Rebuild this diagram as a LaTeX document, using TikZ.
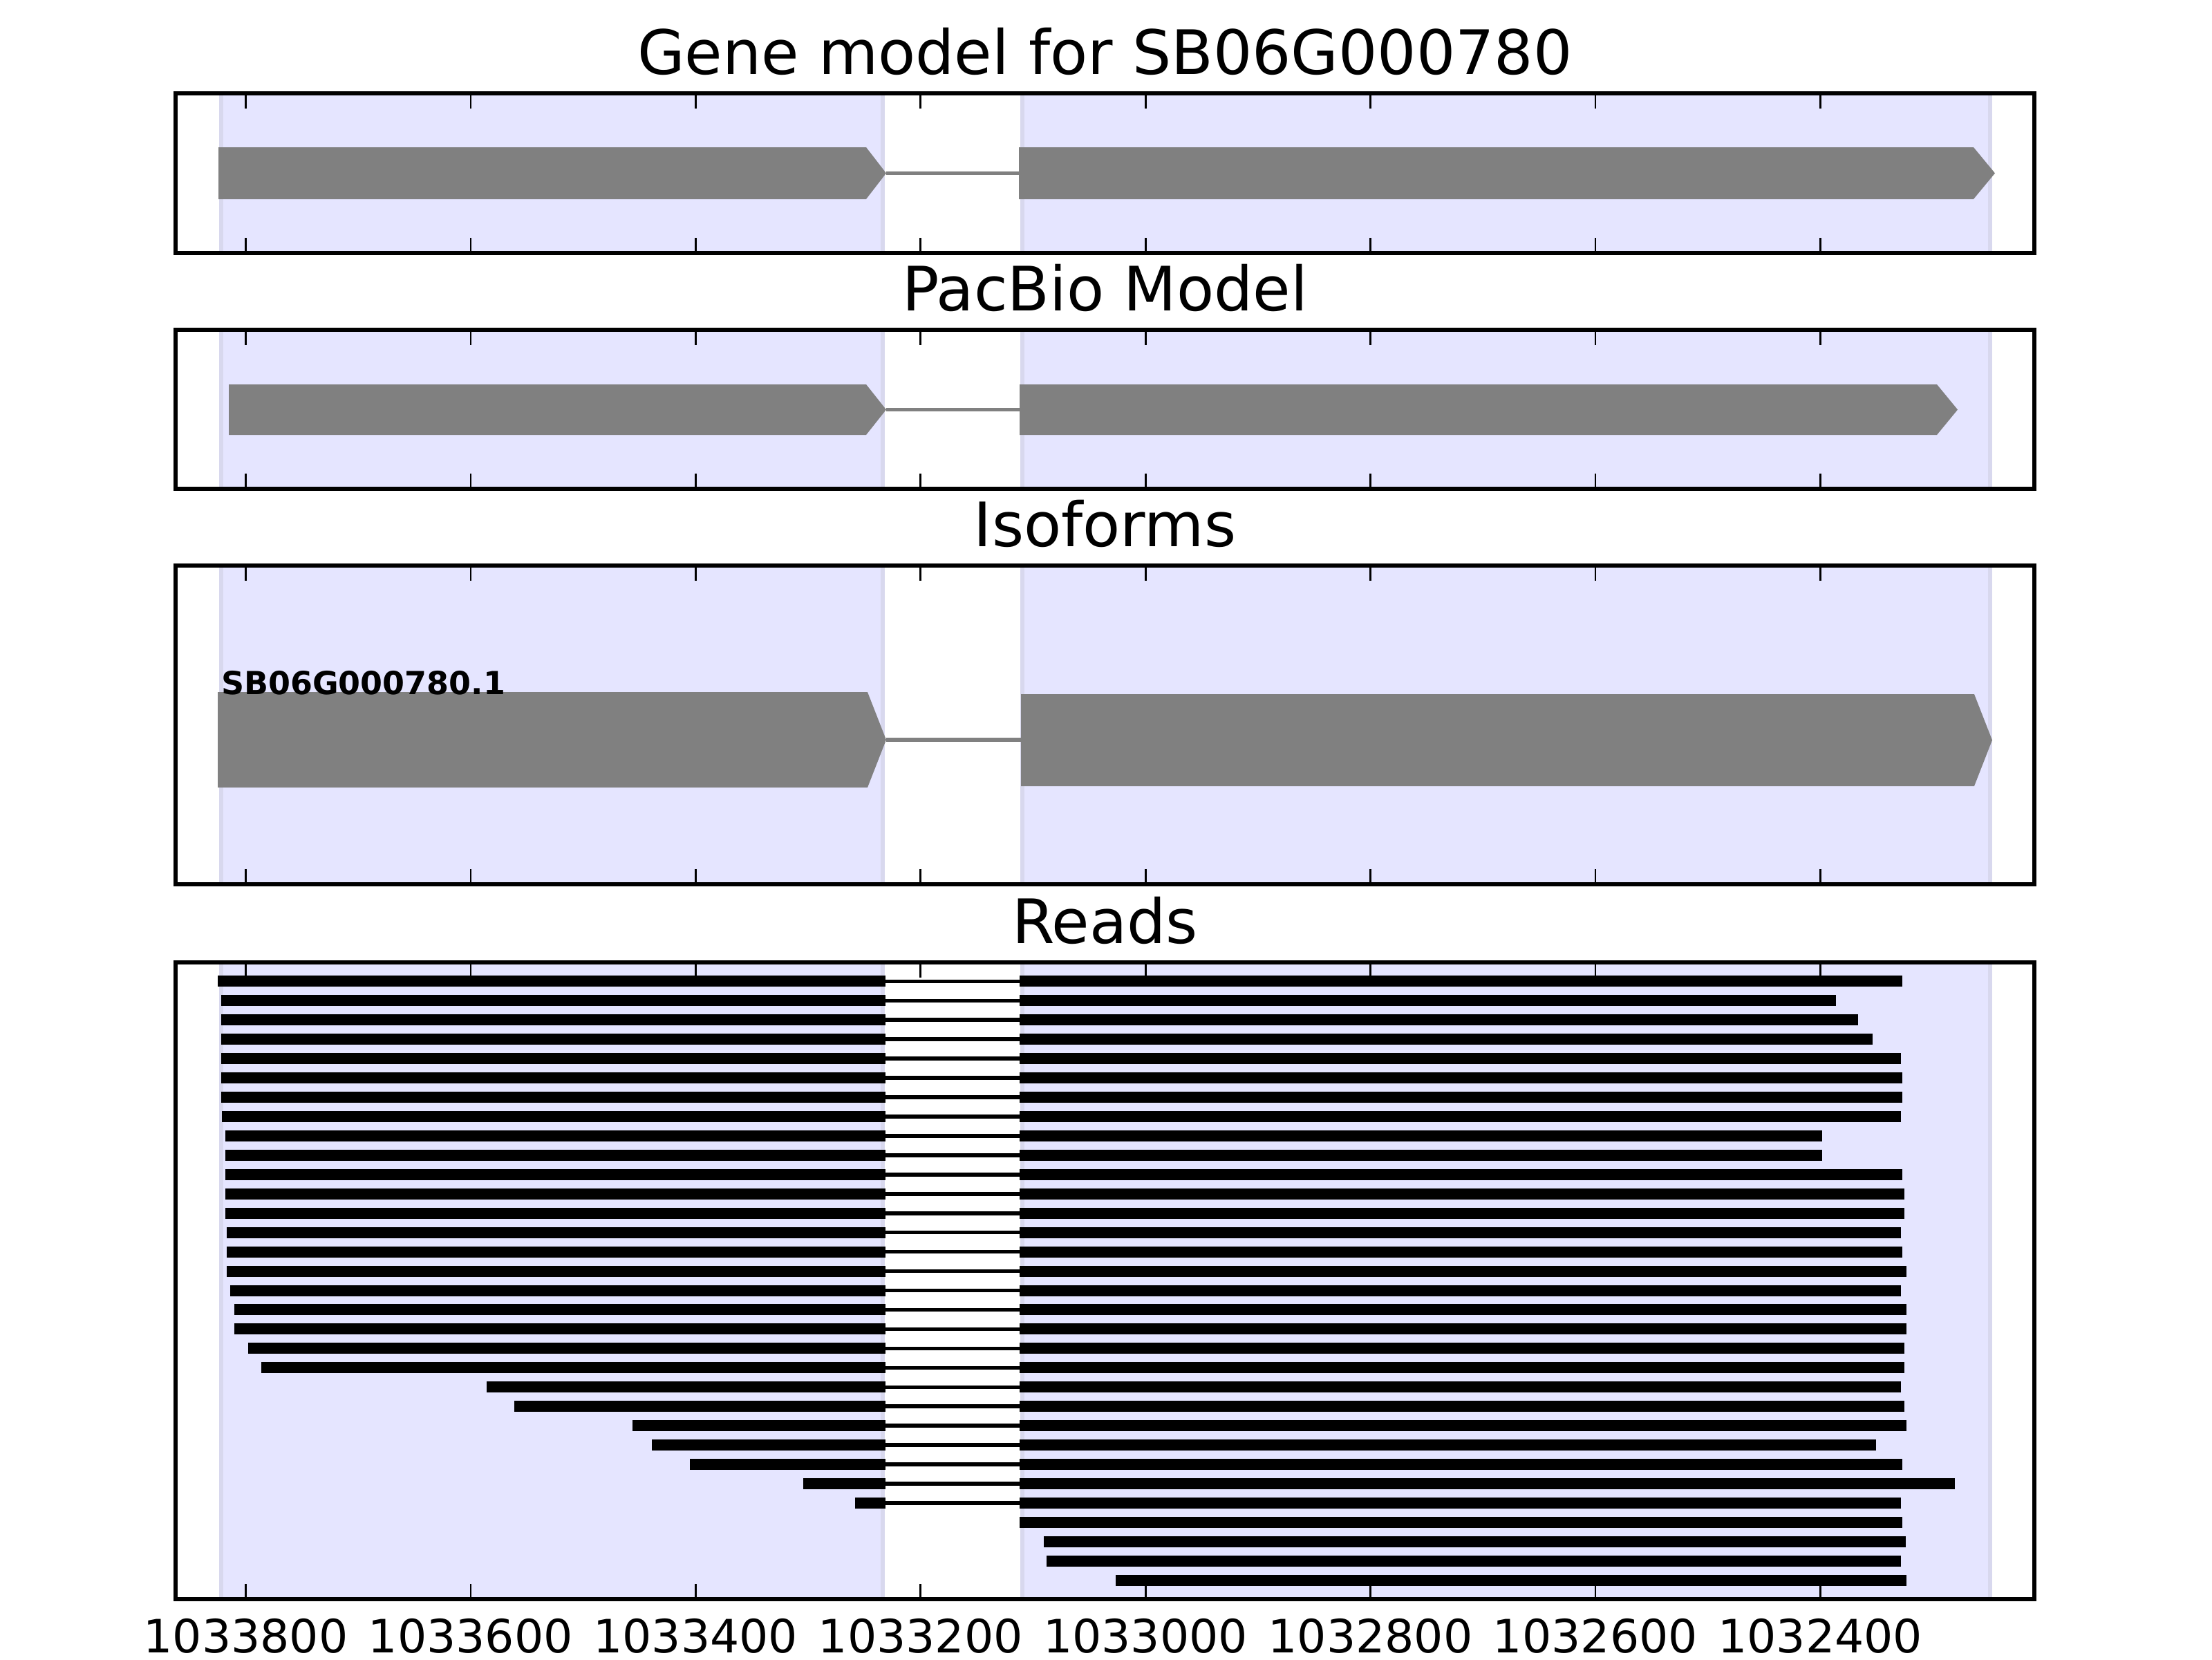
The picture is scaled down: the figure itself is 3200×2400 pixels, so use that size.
\documentclass[tikz,border=0pt]{standalone}
\usepackage{fontspec}
\setmainfont{DejaVu Sans}
\definecolor{exongray}{RGB}{128,128,128}
\definecolor{spanfill}{RGB}{229,229,255}
\definecolor{spanedge}{RGB}{216,216,238}
\begin{document}
\begin{tikzpicture}[x=0.00635cm,y=-0.00635cm]
\tikzstyle{ttl}=[anchor=base, inner sep=0pt, font=\fontsize{16}{19}\selectfont]
\tikzstyle{tlb}=[anchor=base, inner sep=0pt, font=\fontsize{12}{14}\selectfont]
\tikzstyle{iso}=[anchor=base west, inner sep=0pt, font=\fontsize{8.3}{10}\selectfont\bfseries]
\tikzstyle{span}=[fill=spanfill, draw=spanedge, line width=1pt]
\tikzstyle{exon}=[fill=exongray]
\tikzstyle{intron}=[draw=exongray, line width=1pt]
\tikzstyle{rd}=[fill=black]
\tikzstyle{rdline}=[draw=black, line width=1pt]
\tikzstyle{frame}=[draw=black, line width=1pt]
\tikzstyle{tck}=[draw=black, line width=0.5pt]
	\fill[white] (0,0) rectangle (3200,2400);
	\useasboundingbox (0,0) rectangle (3200,2400);

\foreach \yt/\yb in {135/366, 477/707, 818/1279, 1392/2313}{\filldraw[span] (320,\yt) rectangle (1277,\yb); \filldraw[span] (1479,\yt) rectangle (2879,\yb);}

\foreach \xa/\xc/\xt/\ym/\hh in {316/1253/1282/250.5/37.5, 1474/2855/2886/250.5/37.5, 331/1253/1282/592.5/36.5, 1475/2802/2832/592.5/36.5, 315/1255/1282/1070/69, 1477/2856/2882/1070.5/66.5}{\fill[exon] (\xa,\ym-\hh) -- (\xc,\ym-\hh) -- (\xt,\ym) -- (\xc,\ym+\hh) -- (\xa,\ym+\hh) -- cycle;}
	\draw[intron] (1282,250.5) -- (1474,250.5);
	\draw[intron] (1282,592.5) -- (1475,592.5);
	\draw[intron] (1282,1070) -- (1477,1070);
	\node[iso] (isolbl) at (319,1004) {SB06G000780.1};

\foreach \n/\lft/\rgt in {0/315/2752, 1/320/2656, 2/320/2688, 3/320/2709, 4/320/2750, 5/320/2752, 6/320/2752, 7/321/2750, 8/326/2636, 9/326/2636, 10/326/2752, 11/326/2755, 12/326/2755, 13/328/2750, 14/328/2752, 15/328/2758, 16/333/2750, 17/339/2758, 18/339/2758, 19/359/2755, 20/378/2755, 21/704/2750, 22/744/2755, 23/915/2758, 24/943/2714, 25/998/2752, 26/1162/2828, 27/1237/2750}{\pgfmathsetmacro{\y}{1419.3+27.95*\n}
	\fill[rd] (\lft,\y-8) rectangle (1281,\y+8); \draw[rdline] (1281,\y) -- (1475,\y); \fill[rd] (1475,\y-8) rectangle (\rgt,\y+8);}
\foreach \n/\lft/\rgt in {28/1475/2752, 29/1510/2757, 30/1514/2750, 31/1614/2758}{\pgfmathsetmacro{\y}{1419.3+27.95*\n}
	\fill[rd] (\lft,\y-8) rectangle (\rgt,\y+8);}

\foreach \p/\yt/\yb in {gene/135/366, pacbio/477/707, iso/818/1279, reads/1392/2313}{
	\coordinate (\p-nw) at (254,\yt); \coordinate (\p-se) at (2943,\yb);
	\draw[frame] (\p-nw) rectangle (\p-se);
	\foreach \k in {0,...,7}{\draw[tck] (355.5+325.4*\k,\yt) -- ++(0,22); \draw[tck] (355.5+325.4*\k,\yb) -- ++(0,-22);}}

	\node[ttl] (ttlgene) at (1598.5,107) {Gene model for SB06G000780};
	\node[ttl] (ttlpacbio) at (1598.5,449) {PacBio Model};
	\node[ttl] (ttliso) at (1598.5,790) {Isoforms};
	\node[ttl] (ttlreads) at (1598.5,1364) {Reads};
\foreach \k/\lab in {0/1033800, 1/1033600, 2/1033400, 3/1033200, 4/1033000, 5/1032800, 6/1032600, 7/1032400}{\node[tlb] (tl\k) at (355.5+325.4*\k,2390) {\lab};}

\end{tikzpicture}
\end{document}
